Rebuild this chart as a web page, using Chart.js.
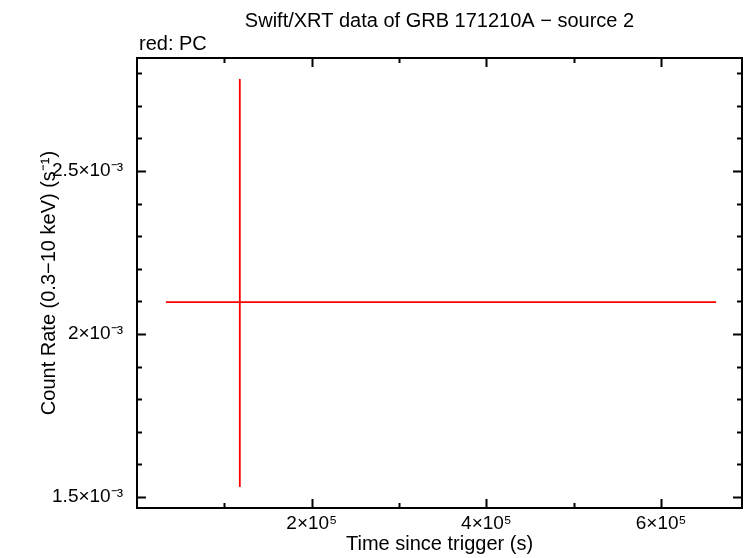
<!DOCTYPE html>
<html>
<head>
<meta charset="utf-8">
<script src="https://cdn.jsdelivr.net/npm/chart.js@4/dist/chart.umd.min.js"></script>
<style>
  html, body { margin: 0; padding: 0; background: #fff; }
</style>
</head>
<body>
<canvas id="curva" width="746" height="558"></canvas>
<script>
// one PC-mode bin
const time = [117700];
const timeErrNeg = [84600];
const timeErrPos = [545300];
const rate = [2.098e-3];
const rateErrNeg = [0.567e-3];
const rateErrPos = [0.684e-3];

// tick labels
const xMajor = [200000, 400000, 600000];
const xLabels = ["2×10⁵", "4×10⁵", "6×10⁵"];
const yMajor = [1.5e-3, 2e-3, 2.5e-3];
const yLabels = ["1.5×10⁻³", "2×10⁻³", "2.5×10⁻³"];

const xMinorStep = 100000;
const yMinorStep = 1e-4;

Chart.defaults.font.family = "'Liberation Sans', Arial, sans-serif";
Chart.defaults.color = "#000";

// error bars in data units, through the scales
const errorBars = {
    id: "errorBars",
    afterDatasetsDraw(chart) {
        const { ctx, scales: { x, y } } = chart;
        ctx.save();
        ctx.strokeStyle = "#ff0000";
        ctx.lineWidth = 1.8;
        ctx.beginPath();
        for (let i = 0; i < time.length; i++) {
            const px = x.getPixelForValue(time[i]);
            const py = y.getPixelForValue(rate[i]);
            ctx.moveTo(x.getPixelForValue(time[i] - timeErrNeg[i]), py);
            ctx.lineTo(x.getPixelForValue(time[i] + timeErrPos[i]), py);
            ctx.moveTo(px, y.getPixelForValue(rate[i] - rateErrNeg[i]));
            ctx.lineTo(px, y.getPixelForValue(rate[i] + rateErrPos[i]));
        }
        ctx.stroke();
        ctx.restore();
    }
};

// box with inward ticks on all four sides, plus the titles
const frame = {
    id: "frame",
    afterDraw(chart) {
        const { ctx, chartArea: a, scales: { x, y } } = chart;
        ctx.save();
        ctx.strokeStyle = "#000";
        ctx.lineWidth = 2;
        ctx.strokeRect(a.left, a.top, a.right - a.left, a.bottom - a.top);

        ctx.beginPath();
        for (let k = 1; k * xMinorStep < x.max; k++) {
            const v = k * xMinorStep;
            const px = Math.round(x.getPixelForValue(v)) + 0.5;
            const major = xMajor.some(m => Math.abs(m - v) < xMinorStep / 100);
            const len = major ? 9 : 5;
            ctx.moveTo(px, a.bottom); ctx.lineTo(px, a.bottom - len);
            ctx.moveTo(px, a.top); ctx.lineTo(px, a.top + len);
        }
        const kStart = Math.ceil(y.min / yMinorStep);
        for (let k = kStart; k * yMinorStep < y.max; k++) {
            const v = k * yMinorStep;
            const py = Math.round(y.getPixelForValue(v)) + 0.5;
            const major = yMajor.some(m => Math.abs(m - v) < yMinorStep / 100);
            const len = major ? 9 : 5;
            ctx.moveTo(a.left, py); ctx.lineTo(a.left + len, py);
            ctx.moveTo(a.right, py); ctx.lineTo(a.right - len, py);
        }
        ctx.stroke();

        ctx.fillStyle = "#000";
        ctx.font = "20px 'Liberation Sans', Arial, sans-serif";
        ctx.textBaseline = "alphabetic";
        ctx.textAlign = "center";
        ctx.fillText("Swift/XRT data of GRB 171210A − source 2", (a.left + a.right) / 2, 27);
        ctx.textAlign = "left";
        ctx.fillText("red: PC", a.left + 2, 50);
        ctx.restore();
    }
};

new Chart(document.getElementById("curva"), {
    type: "scatter",
    data: {
        datasets: [{
            label: "PC",
            data: time.map((t, i) => ({ x: t, y: rate[i] })),
            borderColor: "#ff0000",
            backgroundColor: "#ff0000",
            pointRadius: 0,
            showLine: false
        }]
    },
    options: {
        responsive: false,
        animation: false,
        devicePixelRatio: 1,
        layout: { padding: { top: 58, right: 4, left: 0, bottom: 0 } },
        plugins: {
            legend: { display: false },
            tooltip: { enabled: false }
        },
        scales: {
            x: {
                type: "linear",
                position: "bottom",
                min: 0,
                max: 692600,
                afterBuildTicks: s => { s.ticks = xMajor.map(v => ({ value: v })); },
                afterFit: s => { s.height = 50; },
                ticks: {
                    autoSkip: false,
                    maxRotation: 0,
                    padding: 4,
                    font: { size: 19 },
                    callback: (v, i) => xLabels[i]
                },
                grid: { display: false, drawTicks: false },
                border: { display: false },
                title: {
                    display: true,
                    text: "Time since trigger (s)",
                    font: { size: 20 },
                    padding: { top: 0, bottom: 2 }
                }
            },
            y: {
                type: "linear",
                min: 1.4663e-3,
                max: 2.8466e-3,
                afterBuildTicks: s => { s.ticks = yMajor.map(v => ({ value: v })); },
                afterFit: s => { s.width = 137; },
                ticks: {
                    autoSkip: false,
                    padding: 14,
                    font: { size: 19 },
                    callback: (v, i) => yLabels[i]
                },
                grid: { display: false, drawTicks: false },
                border: { display: false },
                title: {
                    display: true,
                    text: "Count Rate (0.3−10 keV) (s⁻¹)",
                    font: { size: 20 },
                    padding: { top: 37, bottom: 0 }
                }
            }
        }
    },
    plugins: [errorBars, frame]
});
</script>
</body>
</html>
